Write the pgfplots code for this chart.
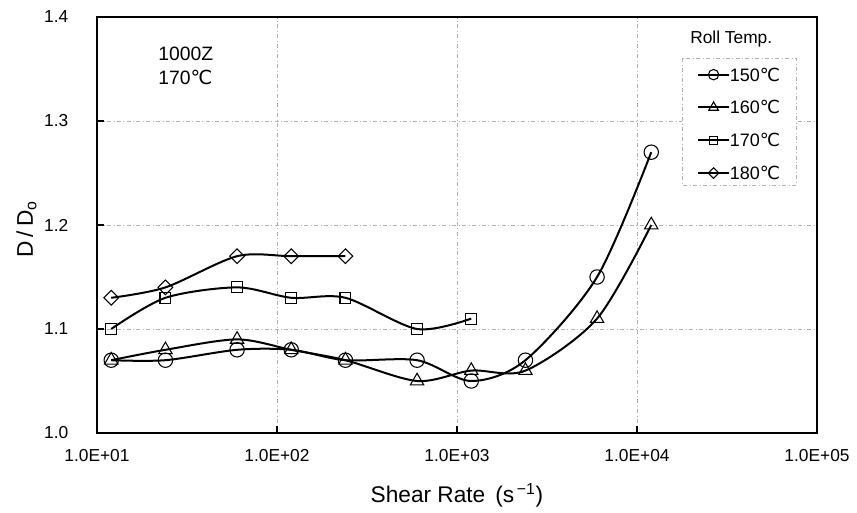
\documentclass[border=0pt]{standalone}
\usepackage{fontspec}
\setmainfont{Liberation Sans}
\newfontfamily\symfont{DejaVu Sans}
\newcommand{\degC}{{\symfont ℃}}
\usepackage{pgfplots}
\pgfplotsset{compat=1.18}

% D/D0 against shear rate for four roll temperatures
\pgfplotstableread{
x      y
12     1.07
24     1.07
60     1.08
120    1.08
240    1.07
600    1.07
1200   1.05
2400   1.07
6000   1.15
12000  1.27
}\tOneFifty
\pgfplotstableread{
x      y
12     1.07
24     1.08
60     1.09
120    1.08
240    1.07
600    1.05
1200   1.06
2400   1.06
6000   1.11
12000  1.20
}\tOneSixty
\pgfplotstableread{
x      y
12     1.10
24     1.13
60     1.14
120    1.13
240    1.13
600    1.10
1200   1.11
}\tOneSeventy
\pgfplotstableread{
x      y
12     1.13
24     1.14
60     1.17
120    1.17
240    1.17
}\tOneEighty

\begin{document}
\begin{tikzpicture}
\begin{axis}[
  scale only axis,
  width=540pt, height=312pt,
  xmode=log,
  xmin=10, xmax=100000,
  ymin=1.0, ymax=1.4,
  xtick={10,100,1000,10000,100000},
  xticklabels={1.0E+01,1.0E+02,1.0E+03,1.0E+04,1.0E+05},
  xminorticks=false,
  ytick={1.0,1.1,1.2,1.3,1.4},
  yticklabel style={/pgf/number format/fixed, /pgf/number format/fixed zerofill,
    /pgf/number format/precision=1, /pgf/number format/assume math mode=true, xshift=-18pt},
  xticklabel style={yshift=-9pt},
  tick label style={font=\fontsize{13}{15}\selectfont},
  tick align=inside,
  xtick pos=left, ytick pos=left,
  major tick length=5pt,
  tick style={black, line width=1pt},
  axis line style={black, line width=2.2pt},
  xmajorgrids, ymajorgrids,
  major grid style={gray!60, dash dot, line width=0.5pt},
  every axis x label/.style={at={(axis description cs:0.5,-0.15)}, anchor=center},
  every axis y label/.style={at={(axis description cs:-0.098,0.49)}, rotate=90, anchor=center},
  label style={font=\fontsize{17}{19}\selectfont},
  xlabel={Shear Rate \,(s\textsuperscript{\,−1})},
  ylabel={D\,/\,D\textsubscript{o}},
  clip=false,
  every axis plot/.append style={black, line width=1.5pt, smooth, tension=0.5},
  open mark/.style={mark options={fill=white, solid, line width=0.8pt, #1}},
  open mark/.default={},
  legend cell align=left,
  legend style={at={(rel axis cs:0.8333,0.8774)}, anchor=north west,
    draw=none, fill=none, inner sep=0pt,
    font=\fontsize{13.5}{15}\selectfont, row sep=15pt,
    nodes={inner sep=0pt, text height=9.6pt, text depth=0pt},
    every odd column/.style={column sep=3.75pt}},
  legend image code/.code={%
    \draw[mark repeat=2, mark phase=2, #1, every mark/.append style={scale=0.72}]
      plot coordinates {(0pt,0pt) (11.5pt,0pt) (23pt,0pt)};},
]
% legend panel
\fill[white] (rel axis cs:0.8125,0.9014) rectangle (rel axis cs:0.9708,0.5962);
\draw[gray!60, dash dot, line width=0.5pt]
  (rel axis cs:0.8125,0.9014) rectangle (rel axis cs:0.9708,0.5962);
\node[anchor=west, inner sep=0pt, font=\fontsize{13}{15}\selectfont]
  at (rel axis cs:0.8236,0.9471) {Roll Temp.};

\addplot[mark=o, mark size=5.4pt, open mark] table[x=x, y=y] {\tOneFifty};
\addlegendentry{150\degC}
\addplot[mark=triangle, mark size=5.8pt, open mark] table[x=x, y=y] {\tOneSixty};
\addlegendentry{160\degC}
\addplot[mark=square, mark size=4.1pt, open mark] table[x=x, y=y] {\tOneSeventy};
\addlegendentry{170\degC}
\addplot[mark=square, mark size=3.9pt, open mark={rotate=45}] table[x=x, y=y] {\tOneEighty};
\addlegendentry{180\degC}

\node[anchor=north west, align=left, inner sep=0pt,
  font=\fontsize{14.5}{17.5}\selectfont] at (rel axis cs:0.0847,0.928) {1000Z\\170\degC};

% keep the outer margins of the figure
\path (rel axis cs:0,0) ++(-72.75pt,-60pt) coordinate (bbA);
\path (rel axis cs:1,1) ++(30pt,12.75pt) coordinate (bbB);
\end{axis}
\path (bbA) (bbB);
\end{tikzpicture}
\end{document}
